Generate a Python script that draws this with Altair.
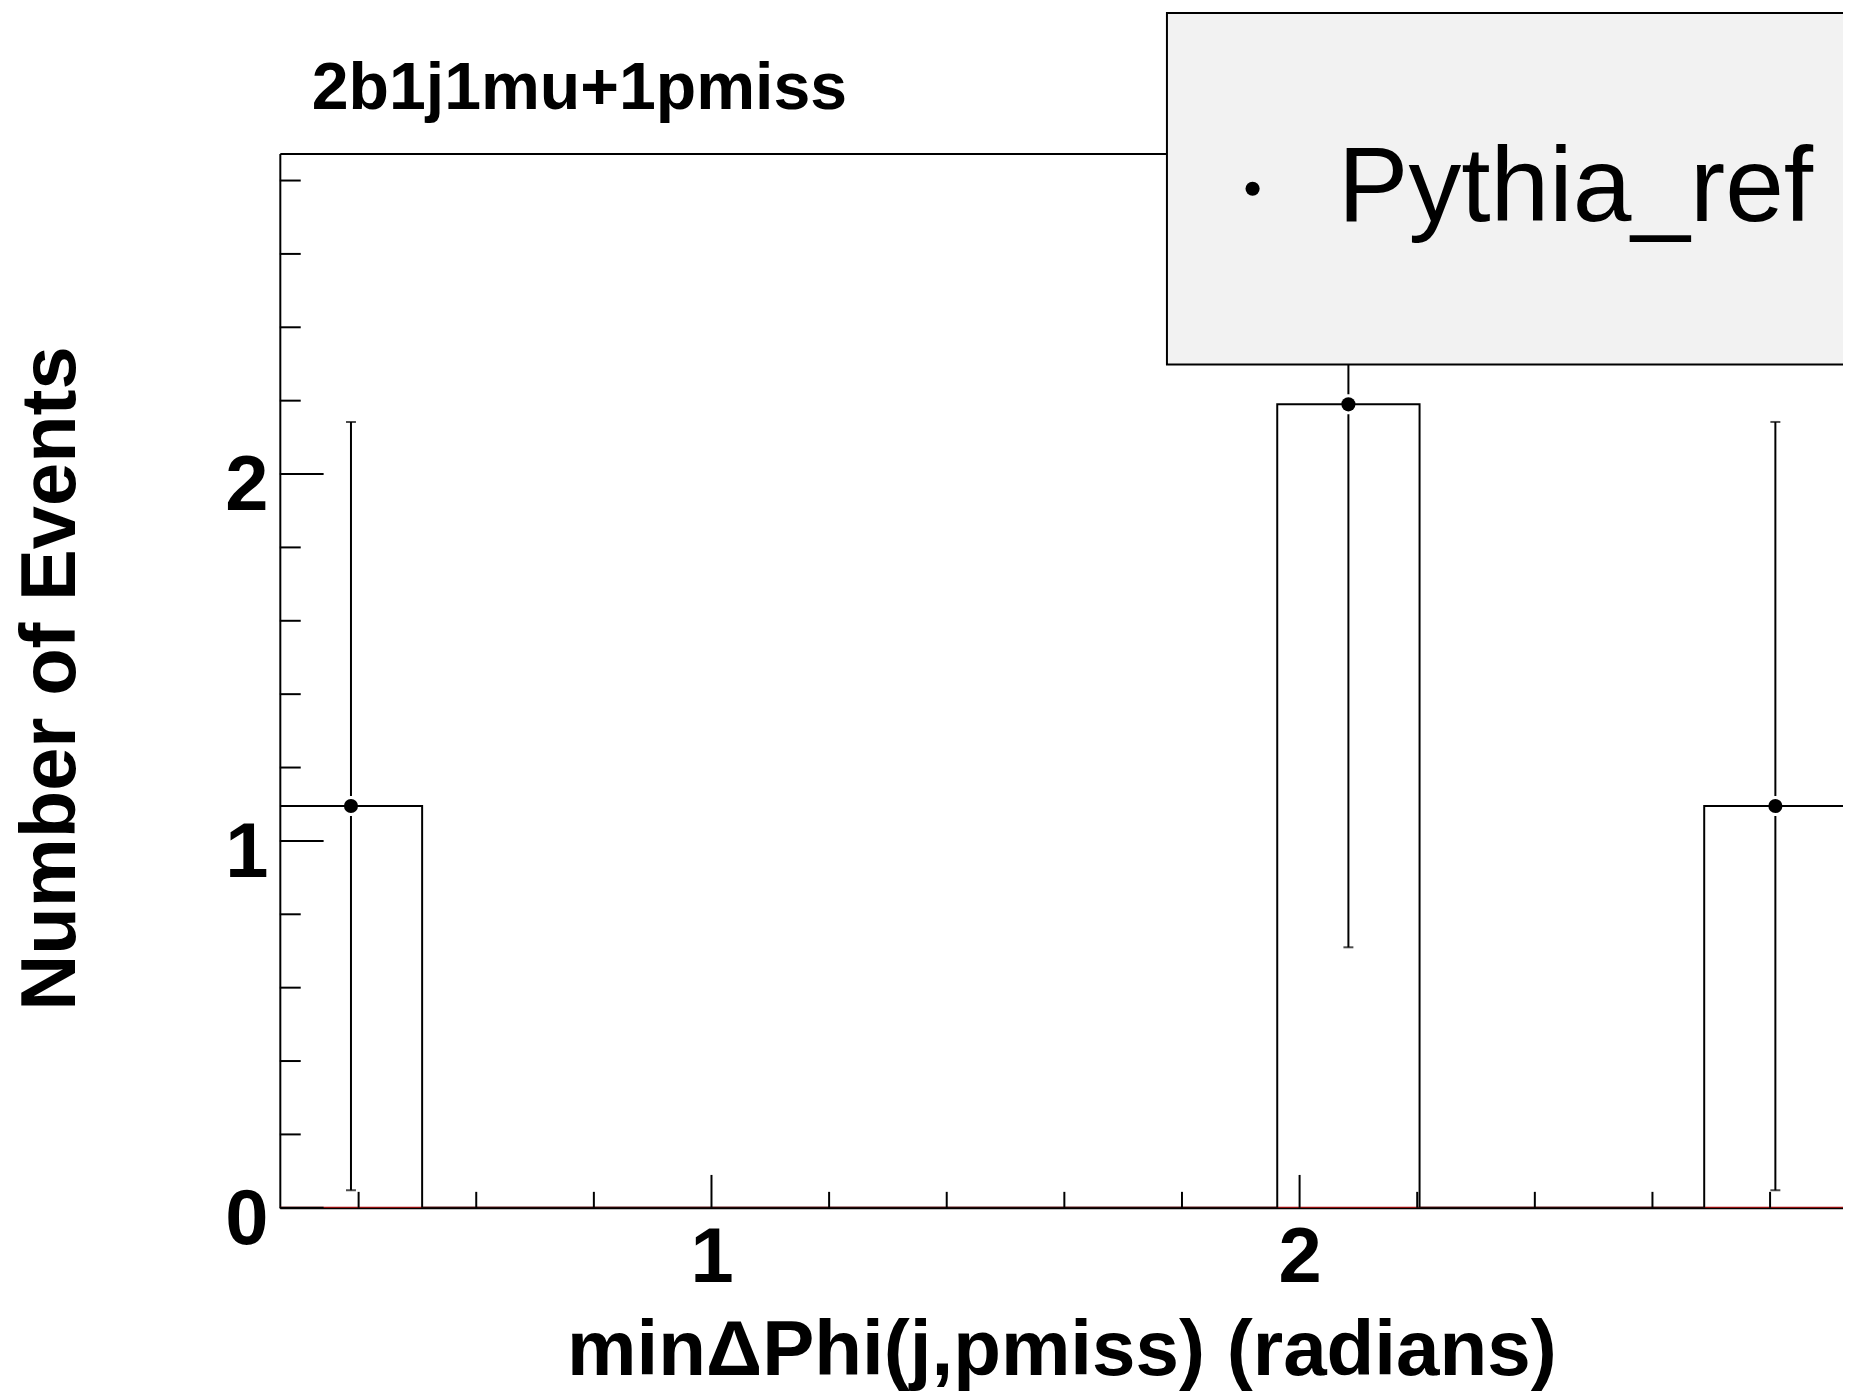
import altair as alt
import pandas as pd

FONT = "Liberation Sans"

# ---- data ----
bin_edges = [0.266, 0.508, 0.750, 0.993, 1.235, 1.477, 1.720, 1.962, 2.204, 2.446, 2.688, 2.930]
bin_counts = [1.095, 0, 0, 0, 0, 0, 0, 2.19, 0, 0, 1.095]
red_counts = [0, 0, 0, 0, 0, 0, 0, 0, 0, 0, 0]

pt_x = [0.387, 2.083, 2.809]
pt_y = [1.095, 2.19, 1.095]
err_lo = [0.048, 0.71, 0.048]
err_hi = [2.142, 3.67, 2.142]
series_name = ["Pythia_ref", "Pythia_ref", "Pythia_ref"]

x_major = [1, 2]
x_minor = [0.4, 0.6, 0.8, 1.2, 1.4, 1.6, 1.8, 2.2, 2.4, 2.6, 2.8]
y_major = [0, 1, 2]
y_minor = [0.2, 0.4, 0.6, 0.8, 1.2, 1.4, 1.6, 1.8, 2.2, 2.4, 2.6, 2.8]

X_DOMAIN = [0.266, 2.924]
Y_DOMAIN = [0, 2.874]
W, H = 1570, 1059


def step_frame(edges, counts):
    rows = []
    for i, c in enumerate(counts):
        rows.append({"x": edges[i], "y": c, "o": i})
    rows.append({"x": edges[len(counts)], "y": counts[-1], "o": len(counts)})
    rows.append({"x": edges[len(counts)], "y": 0, "o": len(counts) + 1})
    return pd.DataFrame(rows)


hist_df = step_frame(bin_edges, bin_counts)
red_df = step_frame(bin_edges, red_counts)
pts_df = pd.DataFrame({"x": pt_x, "y": pt_y, "lo": err_lo, "hi": err_hi, "series": series_name})
xmaj_df = pd.DataFrame({"v": x_major})
xmin_df = pd.DataFrame({"v": x_minor})
ymaj_df = pd.DataFrame({"v": y_major})
ymin_df = pd.DataFrame({"v": y_minor})

xs = alt.Scale(domain=X_DOMAIN, nice=False, zero=False)
ys = alt.Scale(domain=Y_DOMAIN, nice=False, zero=False)

top_axis = alt.Axis(orient="top", labels=False, ticks=False, title=None, grid=False,
                    domain=True, domainColor="black", domainWidth=2)
bottom_axis = alt.Axis(orient="bottom", values=x_major, format="d", ticks=False, tickSize=0,
                       labelPadding=12, labelBaseline="top", labelFontSize=78,
                       title="min\u0394Phi(j,pmiss) (radians)", titleFontSize=78.5,
                       titleX=785, titleY=167, titleAlign="center", titleBaseline="alphabetic",
                       domainColor="black", domainWidth=2)
left_axis = alt.Axis(orient="left", values=y_major, format="d", ticks=False, tickSize=0,
                     labelPadding=12, labelBaseline="middle", labelOffset=13, labelFontSize=78,
                     title="Number of Events", titleFontSize=78, titleAngle=270,
                     titleX=-206, titleY=527, titleAlign="center", titleBaseline="alphabetic",
                     domainColor="black", domainWidth=2)

red = alt.Chart(red_df).mark_line(interpolate="step-after", color="#b00000", strokeWidth=2, clip=True).encode(
    x=alt.X("x:Q", scale=xs, axis=top_axis),
    y=alt.Y("y:Q", scale=ys, axis=None),
    order="o:Q",
)

hist = alt.Chart(hist_df).mark_line(interpolate="step-after", color="black", strokeWidth=2, clip=True).encode(
    x=alt.X("x:Q", scale=xs, axis=bottom_axis),
    y=alt.Y("y:Q", scale=ys, axis=left_axis),
    order="o:Q",
)

xmaj = alt.Chart(xmaj_df).mark_rule(color="black", strokeWidth=2).encode(
    x=alt.X("v:Q", scale=xs, axis=None), y=alt.value(H), y2=alt.value(H - 33))
xmin = alt.Chart(xmin_df).mark_rule(color="black", strokeWidth=2).encode(
    x=alt.X("v:Q", scale=xs, axis=None), y=alt.value(H), y2=alt.value(H - 16))
ymaj = alt.Chart(ymaj_df).mark_rule(color="black", strokeWidth=2).encode(
    y=alt.Y("v:Q", scale=ys, axis=None), x=alt.value(0), x2=alt.value(44))
ymin = alt.Chart(ymin_df).mark_rule(color="black", strokeWidth=2).encode(
    y=alt.Y("v:Q", scale=ys, axis=None), x=alt.value(0), x2=alt.value(21))

err_low = alt.Chart(pts_df).mark_rule(color="black", strokeWidth=2, clip=True, y2Offset=10).encode(
    x=alt.X("x:Q", scale=xs, axis=None),
    y=alt.Y("lo:Q", scale=ys, axis=None),
    y2="y:Q",
)
err_up = alt.Chart(pts_df).mark_rule(color="black", strokeWidth=2, clip=True, y2Offset=-10).encode(
    x=alt.X("x:Q", scale=xs, axis=None),
    y=alt.Y("hi:Q", scale=ys, axis=None),
    y2="y:Q",
)
cap_low = alt.Chart(pts_df).mark_tick(color="black", thickness=2, size=10, orient="horizontal", clip=True).encode(
    x=alt.X("x:Q", scale=xs, axis=None),
    y=alt.Y("lo:Q", scale=ys, axis=None),
)
cap_up = alt.Chart(pts_df).mark_tick(color="black", thickness=2, size=10, orient="horizontal", clip=True).encode(
    x=alt.X("x:Q", scale=xs, axis=None),
    y=alt.Y("hi:Q", scale=ys, axis=None),
)

points = alt.Chart(pts_df).mark_circle(size=201, opacity=1, clip=True).encode(
    x=alt.X("x:Q", scale=xs, axis=None),
    y=alt.Y("y:Q", scale=ys, axis=None),
    color=alt.Color(
        "series:N",
        scale=alt.Scale(domain=["Pythia_ref"], range=["black"]),
        legend=alt.Legend(
            orient="none", legendX=891, legendY=-141, title=None,
            padding=123.5, labelFont=FONT, labelFontSize=106, labelFontWeight="normal",
            labelColor="black", labelLimit=2000, labelAlign="right", labelOffset=510,
            symbolType="circle", symbolSize=201, symbolOffset=-90.5, symbolStrokeWidth=0,
            fillColor="#f2f2f2", strokeColor="black", zindex=1,
        ),
    ),
)

chart = alt.layer(
    red, hist, xmaj, xmin, ymaj, ymin, err_low, err_up, cap_low, cap_up, points
).resolve_axis(x="independent", y="independent").properties(
    width=W, height=H,
    title=alt.TitleParams(
        "2b1j1mu+1pmiss", anchor="start", frame="group", dx=32, dy=164, offset=0,
        baseline="alphabetic", font=FONT, fontSize=66.5, fontWeight="bold", color="black",
    ),
    autosize=alt.AutoSizeParams(type="none"),
    padding={"left": 273, "top": 143, "right": 0, "bottom": 183},
).configure_view(stroke="transparent").configure_axis(
    grid=False, labelFont=FONT, titleFont=FONT, labelFontWeight="bold", titleFontWeight="bold",
    labelColor="black", titleColor="black",
).configure_legend(strokeWidth=2)

chart.save("out.html", embed_options={"renderer": "svg", "actions": False})
